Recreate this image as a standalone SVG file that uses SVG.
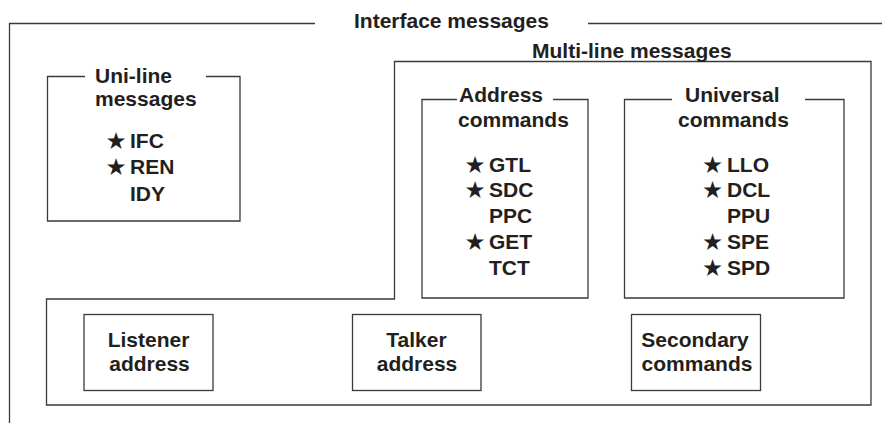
<svg xmlns="http://www.w3.org/2000/svg" width="882" height="423" viewBox="0 0 882 423">
<style>
.ln{fill:none;stroke:#3a3a3a;stroke-width:1.3}
.t{font-family:"Liberation Sans",Arial,sans-serif;font-weight:bold;font-size:21px;fill:#231f20}
.c{text-anchor:middle}
.s{font-family:"DejaVu Sans",sans-serif;font-size:23.5px;fill:#231f20}
</style>
<rect width="882" height="423" fill="#fff"/>
<g id="interface-messages">
<path class="ln" d="M315,23.5 H9.5 V423 M588,23.5 H882"/>
<text class="t" x="354" y="27.5">Interface messages</text>
</g>
<g id="uni-line">
<path class="ln" d="M85,76.5 H47.5 V221 H240 V76.5 H206"/>
<text class="t" x="95" y="82.5">Uni-line</text>
<text class="t" x="95" y="105.5">messages</text>
<text class="s" x="105.5" y="148.5">★</text><text class="t" x="130" y="147.5">IFC</text>
<text class="s" x="105.5" y="175">★</text><text class="t" x="130" y="174">REN</text>
<text class="t" x="130" y="200.5">IDY</text>
</g>
<g id="multi-line">
<path class="ln" d="M394.5,299 V61.5 H871 V405 H46.5 V299 Z"/>
<text class="t" x="532" y="58">Multi-line messages</text>
</g>
<g id="address-commands">
<path class="ln" d="M457,99.5 H422 V298 H588 V99.5 H553"/>
<text class="t" x="459" y="102">Address</text>
<text class="t" x="458" y="127">commands</text>
<text class="s" x="464.5" y="172.5">★</text><text class="t" x="489" y="171.5">GTL</text>
<text class="s" x="464.5" y="198.3">★</text><text class="t" x="489" y="197.3">SDC</text>
<text class="t" x="489" y="223">PPC</text>
<text class="s" x="464.5" y="250">★</text><text class="t" x="489" y="249">GET</text>
<text class="t" x="489" y="275">TCT</text>
</g>
<g id="universal-commands">
<path class="ln" d="M672,99.5 H624.5 V298 H844 V99.5 H805"/>
<text class="t" x="685" y="102">Universal</text>
<text class="t" x="678" y="127">commands</text>
<text class="s" x="702" y="172.5">★</text><text class="t" x="727" y="171.5">LLO</text>
<text class="s" x="702" y="198.3">★</text><text class="t" x="727" y="197.3">DCL</text>
<text class="t" x="727" y="223">PPU</text>
<text class="s" x="702" y="250">★</text><text class="t" x="727" y="249">SPE</text>
<text class="s" x="702" y="276">★</text><text class="t" x="727" y="275">SPD</text>
</g>
<g id="listener-address">
<rect class="ln" x="84" y="314.5" width="129" height="76"/>
<text class="t c" x="148.5" y="347">Listener</text>
<text class="t c" x="149.5" y="370.5">address</text>
</g>
<g id="talker-address">
<rect class="ln" x="352.5" y="314.5" width="128.5" height="76"/>
<text class="t c" x="416.5" y="347">Talker</text>
<text class="t c" x="417" y="370.5">address</text>
</g>
<g id="secondary-commands">
<rect class="ln" x="631.5" y="314.5" width="129" height="76"/>
<text class="t c" x="695" y="347">Secondary</text>
<text class="t c" x="697" y="370.5">commands</text>
</g>
<g id="connectors"></g>
</svg>
